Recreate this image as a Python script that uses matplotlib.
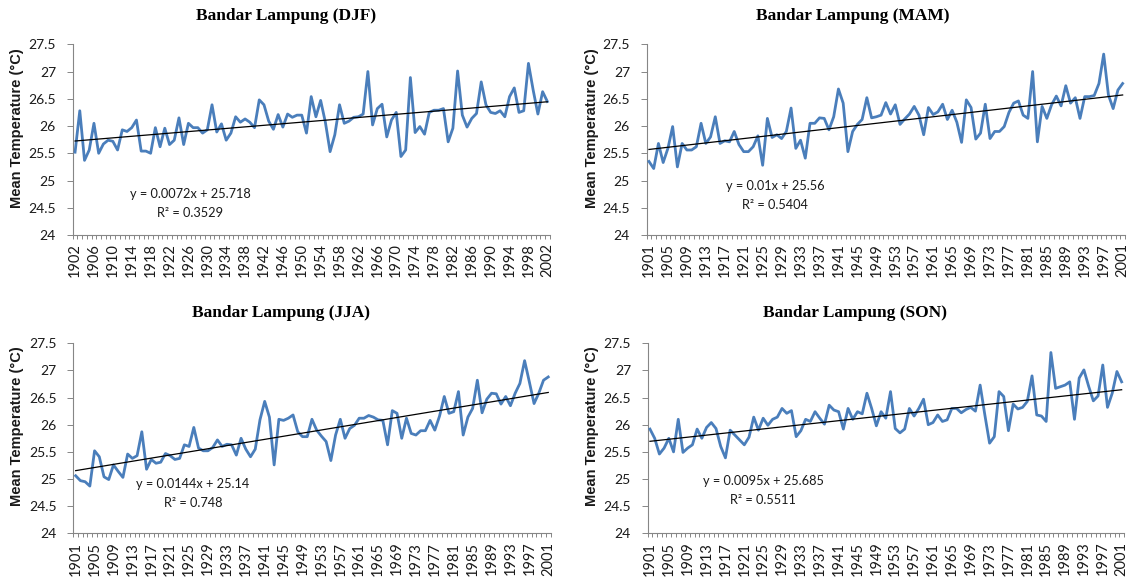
import matplotlib
matplotlib.use("Agg")
import matplotlib.pyplot as plt
import numpy as np

# ---------------- data ----------------
djf_years = list(range(1902, 2003))
djf_temp = [25.52, 26.28, 25.37, 25.56, 26.05, 25.50, 25.67, 25.74, 25.72, 25.56,
            25.93, 25.90, 25.97, 26.11, 25.54, 25.54, 25.50, 25.97, 25.62, 25.96,
            25.66, 25.74, 26.15, 25.66, 26.05, 25.97, 25.97, 25.87, 25.93, 26.39,
            25.89, 26.04, 25.74, 25.87, 26.17, 26.07, 26.13, 26.07, 25.97, 26.48,
            26.39, 26.09, 25.94, 26.21, 25.98, 26.22, 26.16, 26.20, 26.20, 25.87,
            26.54, 26.17, 26.47, 26.07, 25.53, 25.84, 26.39, 26.05, 26.09, 26.16,
            26.17, 26.22, 27.00, 26.02, 26.32, 26.40, 25.80, 26.11, 26.25, 25.44,
            25.56, 26.89, 25.88, 25.99, 25.85, 26.25, 26.29, 26.29, 26.32, 25.71,
            25.96, 27.01, 26.20, 25.98, 26.14, 26.23, 26.81, 26.39, 26.25, 26.23,
            26.28, 26.17, 26.54, 26.70, 26.25, 26.28, 27.15, 26.66, 26.22, 26.63, 26.45]

mam_years = list(range(1901, 2002))
mam_temp = [25.35, 25.22, 25.68, 25.33, 25.59, 25.99, 25.25, 25.68, 25.56, 25.56,
            25.62, 26.05, 25.68, 25.80, 26.17, 25.68, 25.73, 25.71, 25.90, 25.66,
            25.53, 25.53, 25.62, 25.82, 25.28, 26.14, 25.79, 25.84, 25.77, 25.90,
            26.33, 25.59, 25.74, 25.41, 26.05, 26.05, 26.15, 26.14, 25.93, 26.17,
            26.68, 26.42, 25.53, 25.90, 26.03, 26.12, 26.52, 26.15, 26.17, 26.20,
            26.43, 26.22, 26.39, 26.03, 26.13, 26.22, 26.36, 26.20, 25.84, 26.34,
            26.21, 26.26, 26.40, 26.12, 26.29, 26.07, 25.70, 26.48, 26.34, 25.76,
            25.87, 26.40, 25.77, 25.90, 25.90, 25.99, 26.25, 26.42, 26.46, 26.20,
            26.14, 27.00, 25.71, 26.36, 26.14, 26.39, 26.55, 26.37, 26.74, 26.42,
            26.52, 26.14, 26.54, 26.54, 26.56, 26.78, 27.32, 26.57, 26.32, 26.66, 26.78]

jja_years = list(range(1901, 2002))
jja_temp = [25.06, 24.97, 24.95, 24.87, 25.52, 25.41, 25.04, 24.99, 25.26, 25.14,
            25.03, 25.46, 25.38, 25.43, 25.87, 25.18, 25.36, 25.29, 25.31, 25.47,
            25.43, 25.36, 25.38, 25.63, 25.60, 25.95, 25.57, 25.52, 25.52, 25.58,
            25.72, 25.60, 25.64, 25.63, 25.44, 25.75, 25.55, 25.41, 25.55, 26.09,
            26.43, 26.14, 25.26, 26.10, 26.08, 26.12, 26.18, 25.87, 25.78, 25.78,
            26.10, 25.90, 25.79, 25.69, 25.34, 25.81, 26.10, 25.75, 25.93, 25.99,
            26.12, 26.12, 26.17, 26.14, 26.09, 26.08, 25.63, 26.26, 26.21, 25.75,
            26.12, 25.84, 25.81, 25.89, 25.89, 26.08, 25.90, 26.16, 26.52, 26.21,
            26.24, 26.61, 25.81, 26.14, 26.30, 26.82, 26.22, 26.47, 26.58, 26.57,
            26.38, 26.52, 26.35, 26.58, 26.76, 27.18, 26.79, 26.39, 26.58, 26.82, 26.88]

son_years = list(range(1901, 2002))
son_temp = [25.92, 25.75, 25.46, 25.57, 25.75, 25.50, 26.10, 25.49, 25.57, 25.63,
            25.92, 25.75, 25.95, 26.04, 25.93, 25.60, 25.39, 25.90, 25.81, 25.72,
            25.63, 25.77, 26.14, 25.90, 26.12, 25.99, 26.10, 26.14, 26.30, 26.21,
            26.26, 25.78, 25.89, 26.10, 26.06, 26.24, 26.12, 26.01, 26.36, 26.27,
            26.24, 25.92, 26.30, 26.10, 26.24, 26.20, 26.58, 26.30, 25.98, 26.24,
            26.12, 26.61, 25.93, 25.85, 25.92, 26.30, 26.16, 26.30, 26.47, 26.00,
            26.04, 26.18, 26.06, 26.09, 26.30, 26.30, 26.22, 26.28, 26.32, 26.25,
            26.73, 26.18, 25.66, 25.78, 26.61, 26.52, 25.89, 26.38, 26.29, 26.32,
            26.43, 26.90, 26.18, 26.16, 26.06, 27.33, 26.67, 26.70, 26.73, 26.79,
            26.10, 26.86, 27.01, 26.71, 26.44, 26.53, 27.10, 26.32, 26.58, 26.98, 26.79]

titles = ["Bandar Lampung (DJF)", "Bandar Lampung (MAM)",
          "Bandar Lampung (JJA)", "Bandar Lampung (SON)"]
trend_slopes = [0.0072, 0.01, 0.0144, 0.0095]
trend_intercepts = [25.718, 25.56, 25.14, 25.685]
equation_labels = ["y = 0.0072x + 25.718", "y = 0.01x + 25.56",
                   "y = 0.0144x + 25.14", "y = 0.0095x + 25.685"]
r2_labels = ["R² = 0.3529", "R² = 0.5404", "R² = 0.748", "R² = 0.5511"]
y_ticks = [24, 24.5, 25, 25.5, 26, 26.5, 27, 27.5]
y_label = "Mean Temperature (°C)"

# ---------------- layout ----------------
W, H = 1132, 582
fig = plt.figure(figsize=(W / 100, H / 100), dpi=100)

def frac_rect(left, right, top, bottom):
    return [left / W, 1 - bottom / H, (right - left) / W, (bottom - top) / H]

layout = [
    dict(rect=(72.7, 549.7, 44.3, 235.0), title=(286, 16), eq=(190, 194), ylab=(17, 128)),
    dict(rect=(646.6, 1125.0, 44.3, 235.0), title=(853, 16), eq=(775, 186), ylab=(592, 128)),
    dict(rect=(73.3, 550.6, 343.3, 533.3), title=(281, 313), eq=(193, 484), ylab=(17, 426)),
    dict(rect=(647.6, 1124.0, 343.3, 533.3), title=(855, 313), eq=(763, 481), ylab=(592, 426)),
]

series = [(djf_years, djf_temp), (mam_years, mam_temp),
          (jja_years, jja_temp), (son_years, son_temp)]

LINE_BLUE = "#4A7EBB"
AXIS_GRAY = "#868686"
TXT = "#1a1a1a"
NUM_FONT = ["Lato", "DejaVu Sans"]

for k, (years, temps) in enumerate(series):
    L = layout[k]
    ax = fig.add_axes(frac_rect(*L["rect"]))
    n = len(years)
    xs = np.arange(1, n + 1)
    ax.plot(xs, temps, color=LINE_BLUE, lw=2.0, solid_joinstyle="round", zorder=3)
    trend = trend_slopes[k] * xs + trend_intercepts[k]
    ax.plot(xs, trend, color="black", lw=0.9, zorder=4)

    ax.set_xlim(0.5, n + 0.5)
    ax.set_ylim(24, 27.5)
    ax.set_yticks(y_ticks)
    ax.set_yticklabels([f"{v:g}" for v in y_ticks], fontsize=10,
                       family=NUM_FONT, color=TXT)
    ax.set_xticks(xs[::4])
    ax.set_xticklabels([str(y) for y in years[::4]], rotation=90, fontsize=10.5,
                       family=NUM_FONT, color=TXT)
    ax.set_xticks(np.arange(0.5, n + 1.0, 1.0), minor=True)
    ax.tick_params(axis="x", which="major", length=0, pad=6)
    ax.tick_params(axis="x", which="minor", length=3, width=0.7, color=AXIS_GRAY,
                   direction="out")
    ax.tick_params(axis="y", which="major", length=4, width=0.7, color=AXIS_GRAY,
                   direction="out", pad=8)
    for s in ("top", "right"):
        ax.spines[s].set_visible(False)
    for s in ("left", "bottom"):
        ax.spines[s].set_color(AXIS_GRAY)
        ax.spines[s].set_linewidth(0.8)

    tx, ty = L["title"]
    fig.text(tx / W, 1 - ty / H, titles[k], ha="center", va="center",
             fontsize=12.5, fontweight="bold", family="Liberation Serif", color="black")
    ex, ey = L["eq"]
    fig.text(ex / W, 1 - ey / H, equation_labels[k], ha="center", va="center",
             fontsize=9.2, family=NUM_FONT, color=TXT)
    fig.text(ex / W, 1 - (ey + 19) / H, r2_labels[k], ha="center", va="center",
             fontsize=9.2, family=NUM_FONT, color=TXT)
    lx, ly = L["ylab"]
    fig.text(lx / W, 1 - ly / H, y_label, rotation=90, ha="center", va="center",
             fontsize=10.5, fontweight="bold", family=["Liberation Sans", "DejaVu Sans"],
             color=TXT)

fig.savefig("out.png", dpi=100, facecolor="white")
